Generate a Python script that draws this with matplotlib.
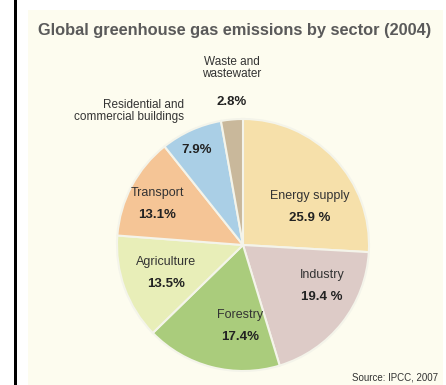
import matplotlib
matplotlib.use("Agg")
import matplotlib.pyplot as plt
from matplotlib.patches import Rectangle

sectors = ["Energy supply", "Industry", "Forestry", "Agriculture", "Transport",
           "Residential and\ncommercial buildings", "Waste and\nwastewater"]
values = [25.9, 19.4, 17.4, 13.5, 13.1, 7.9, 2.8]
pct_labels = ["25.9 %", "19.4 %", "17.4%", "13.5%", "13.1%", "7.9%", "2.8%"]
colors = ["#F6E0AA", "#DDCBC7", "#AACC7C", "#E8EEB8", "#F5C596", "#AACFE6", "#C9B89B"]

W, H = 446, 385
fig = plt.figure(figsize=(W / 100, H / 100), dpi=100)
fig.patch.set_facecolor("white")

# cream panel and black left rule
fig.add_artist(Rectangle((28 / W, 0), (443 - 28) / W, (H - 10) / H,
                         transform=fig.transFigure, facecolor="#FDFCEF", edgecolor="none", zorder=0))
fig.add_artist(Rectangle((14 / W, 0), 2.5 / W, 1, transform=fig.transFigure,
                         facecolor="black", edgecolor="none", zorder=0))

cx, cy, r = 243, 245, 126
ax = fig.add_axes([(cx - r) / W, (H - cy - r) / H, 2 * r / W, 2 * r / H])
ax.pie(values, colors=colors, startangle=90, counterclock=False, radius=1,
       wedgeprops=dict(edgecolor="#F4F4EA", linewidth=1.5))
ax.set_xlim(-1, 1)
ax.set_ylim(-1, 1)
ax.set_aspect("equal")
ax.axis("off")

def d(px, py):
    return (px - cx) / r, (cy - py) / r

font = "Liberation Sans"
txt_col = "#333333"
name_pos = [(310, 196), (322, 275), (240, 315), (166, 262), (157, 193), None, None]
pct_pos = [(310, 218), (322, 297), (240, 337), (166, 284), (157, 215), (197, 150), (232, 102)]

for i, name in enumerate(sectors):
    if name_pos[i] is not None:
        x, y = d(*name_pos[i])
        ax.text(x, y, name, ha="center", va="center", fontsize=9, family=font, color=txt_col)
    x, y = d(*pct_pos[i])
    ax.text(x, y, pct_labels[i], ha="center", va="center", fontsize=9.5, family=font,
            weight="bold", color="#222222")

# outside labels
x, y = d(184, 111)
ax.text(x, y, sectors[5], ha="right", va="center", fontsize=8.5, family=font,
        color=txt_col, linespacing=1.0, clip_on=False)
x, y = d(232, 68)
ax.text(x, y, sectors[6], ha="center", va="center", fontsize=8.5, family=font,
        color=txt_col, linespacing=1.0, clip_on=False)

fig.text(235 / W, 1 - 30 / H, "Global greenhouse gas emissions by sector (2004)",
         ha="center", va="center", fontsize=11.8, weight="bold", family=font, color="#5a5a5a")
fig.text(438 / W, 1 - 377 / H, "Source: IPCC, 2007", ha="right", va="center",
         fontsize=7, family=font, color="#333333")

fig.savefig("out.png", dpi=100, facecolor=fig.get_facecolor())
